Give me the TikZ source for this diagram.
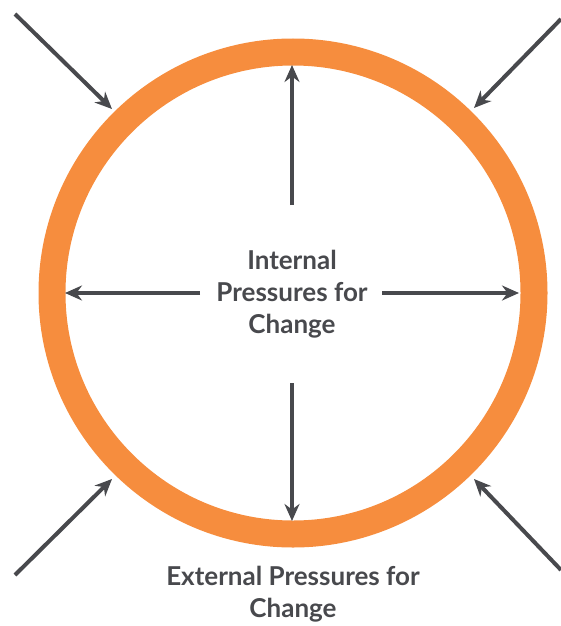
\documentclass[tikz,border=0pt]{standalone}
\usepackage{fontspec}
\setmainfont{Lato}
\usetikzlibrary{arrows.meta}

\definecolor{ringorange}{HTML}{F68D3E}
\definecolor{arrowgrey}{HTML}{48494D}

\begin{document}
\begin{tikzpicture}[x=1pt, y=-1pt,
    push/.style={arrowgrey, line width=4pt, -{Stealth[length=17pt, width=15pt]}},
    label/.style={text=arrowgrey, font=\bfseries\fontsize{26}{32}\selectfont, align=center}]

  \useasboundingbox (0,0) rectangle (561,626);

  \def\R{241}
  \coordinate (O) at (293,293);

  % ring
  \draw[ringorange, line width=27pt] (O) circle (\R);

  % labels
  \node[label] (inner) at (292,294) {Internal\\Pressures for\\Change};
  \node[label] (outer) at (293,594) {External Pressures for\\Change};

  % internal pressures
  \coordinate (up0) at (292,205);    \coordinate (up1) at (292,65);
  \coordinate (dn0) at (292,383);    \coordinate (dn1) at (292,521);
  \coordinate (lf0) at (200,293);    \coordinate (lf1) at (65,293);
  \coordinate (rt0) at (382,293);    \coordinate (rt1) at (519,293);
  \draw[push] (up0) -- (up1);
  \draw[push] (dn0) -- (dn1);
  \draw[push] (lf0) -- (lf1);
  \draw[push] (rt0) -- (rt1);

  % external pressures
  \coordinate (nw0) at (15,14);      \coordinate (nw1) at (112,109);
  \coordinate (ne0) at (561,19);     \coordinate (ne1) at (474,108);
  \coordinate (sw0) at (15,575);     \coordinate (sw1) at (112,479);
  \coordinate (se0) at (561,570);    \coordinate (se1) at (474,479);
  \draw[push] (nw0) -- (nw1);
  \draw[push] (ne0) -- (ne1);
  \draw[push] (sw0) -- (sw1);
  \draw[push] (se0) -- (se1);

\end{tikzpicture}
\end{document}
